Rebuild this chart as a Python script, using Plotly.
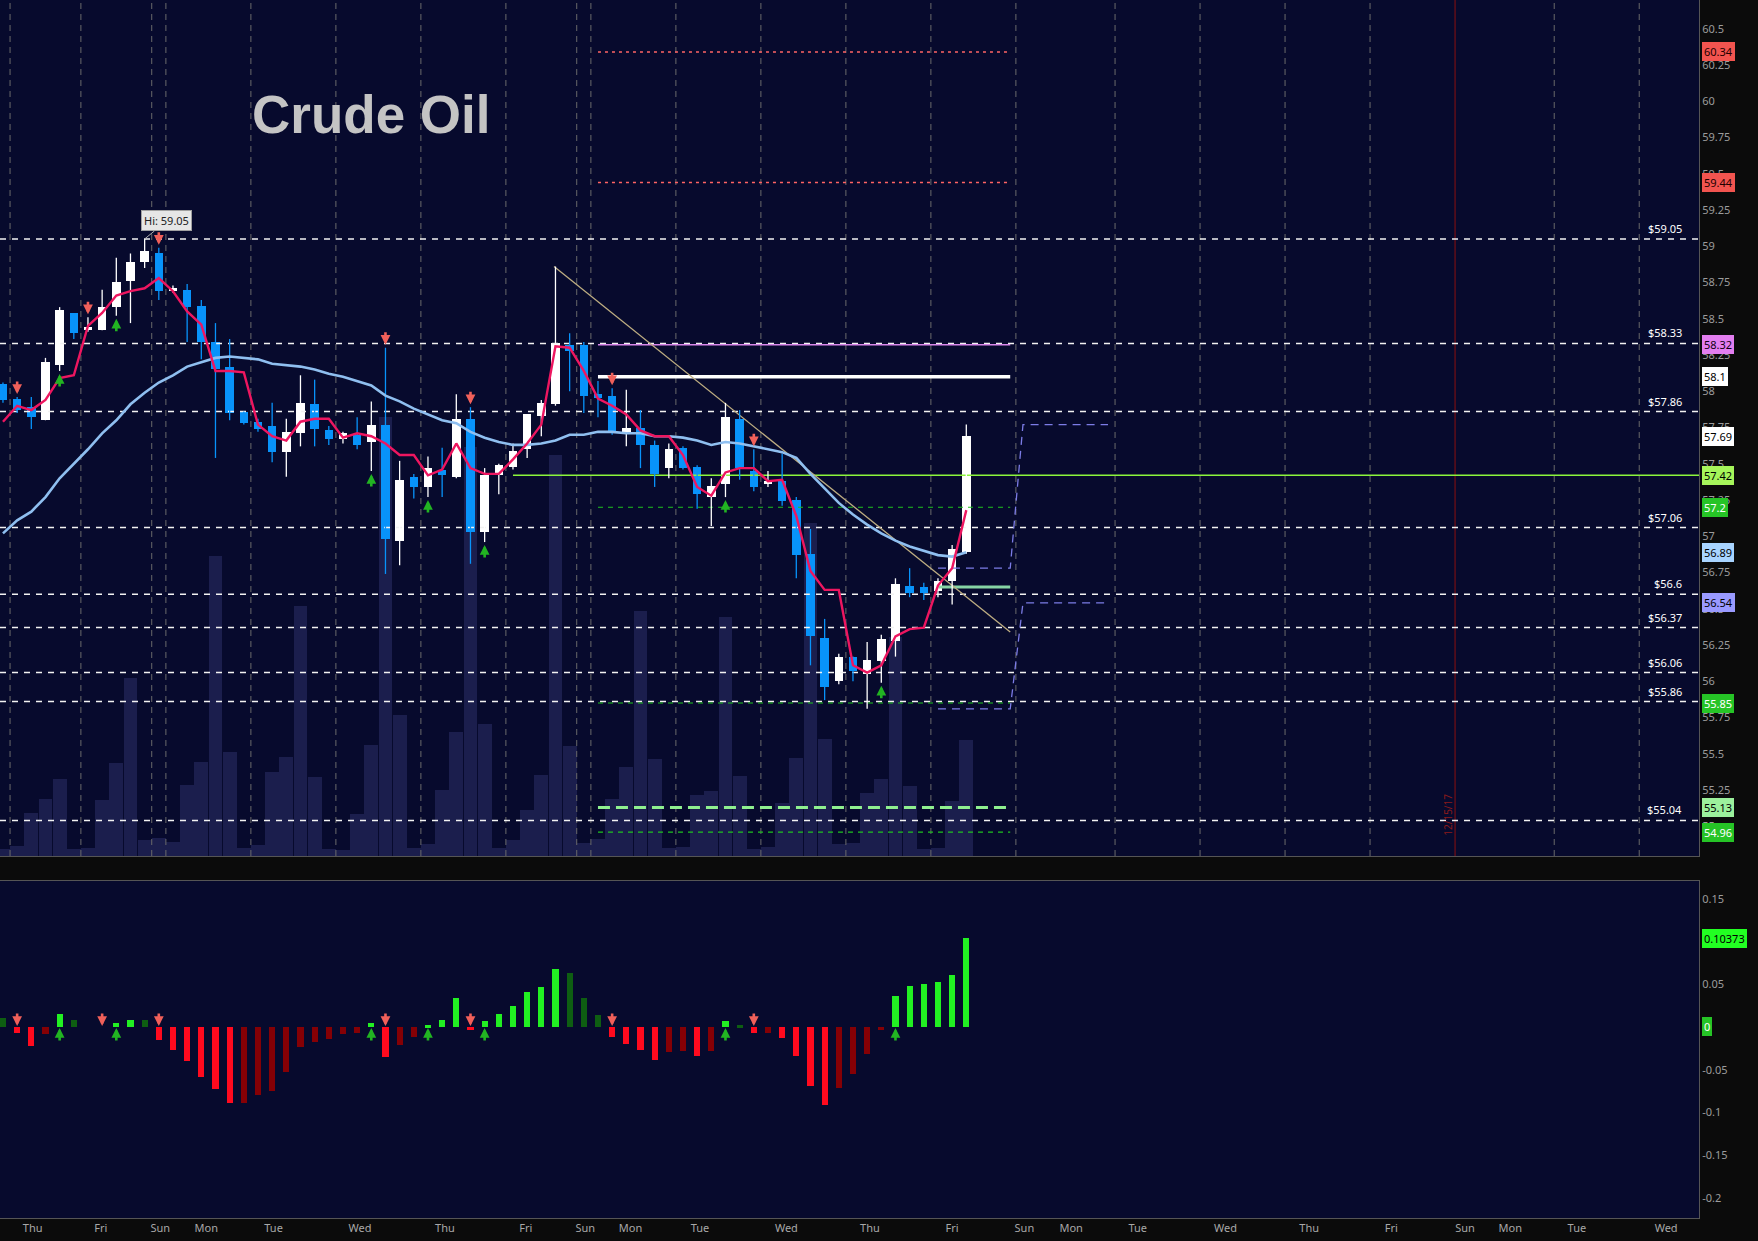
import plotly.graph_objects as go

# ---------------- data ----------------
opens = [58.05, 57.95, 57.89, 57.80, 58.18, 58.54, 58.42, 58.42, 58.58, 58.76,
         58.89, 58.95, 58.69, 58.70, 58.59, 58.34, 58.17, 57.86, 57.79, 57.76,
         57.58, 57.71, 57.91, 57.73, 57.67, 57.70, 57.65, 57.77, 56.97, 57.41,
         57.34, 57.46, 57.41, 57.81, 57.03, 57.42, 57.48, 57.60, 57.83, 57.91,
         58.32, 58.32, 57.98, 57.97, 57.71, 57.75, 57.63, 57.47, 57.61, 57.48,
         57.27, 57.36, 57.81, 57.45, 57.36, 57.38, 57.25, 56.88, 56.30, 56.00,
         56.17, 56.05, 56.14, 56.28, 56.66, 56.65, 56.62, 56.69, 56.89]
highs = [58.06, 57.96, 57.96, 58.23, 58.58, 58.54, 58.51, 58.70, 58.92, 58.95,
         59.05, 58.99, 58.73, 58.74, 58.63, 58.47, 58.36, 57.86, 57.81, 57.92,
         57.81, 58.11, 58.08, 57.76, 57.72, 57.82, 57.93, 58.30, 57.52, 57.43,
         57.55, 57.61, 57.98, 57.89, 57.47, 57.50, 57.64, 57.84, 57.94, 58.86,
         58.40, 58.34, 58.07, 58.02, 58.01, 57.87, 57.66, 57.64, 57.62, 57.49,
         57.40, 57.92, 57.87, 57.60, 57.45, 57.57, 57.27, 57.05, 56.43, 56.19,
         56.17, 56.27, 56.32, 56.71, 56.78, 56.68, 56.71, 56.94, 57.77]
lows = [57.92, 57.85, 57.74, 57.80, 58.14, 58.36, 58.41, 58.42, 58.52, 58.47,
        58.85, 58.63, 58.68, 58.34, 58.22, 57.54, 57.80, 57.77, 57.72, 57.51,
        57.41, 57.62, 57.62, 57.63, 57.64, 57.60, 57.45, 56.74, 56.80, 57.26,
        57.27, 57.27, 57.40, 56.81, 56.96, 57.29, 57.46, 57.54, 57.69, 57.90,
        58.00, 57.85, 57.82, 57.70, 57.62, 57.47, 57.34, 57.40, 57.46, 57.19,
        57.07, 57.27, 57.39, 57.31, 57.34, 57.21, 56.71, 56.11, 55.87, 55.98,
        56.00, 55.81, 55.99, 56.17, 56.58, 56.56, 56.58, 56.53, 56.88]
closes = [57.94, 57.87, 57.82, 58.20, 58.56, 58.40, 58.44, 58.58, 58.75, 58.89,
          58.97, 58.69, 58.71, 58.58, 58.34, 58.15, 57.85, 57.78, 57.74, 57.58,
          57.72, 57.92, 57.74, 57.67, 57.71, 57.63, 57.77, 56.98, 57.39, 57.34,
          57.47, 57.42, 57.81, 57.03, 57.42, 57.49, 57.59, 57.84, 57.92, 58.33,
          58.28, 57.97, 57.955, 57.71, 57.75, 57.63, 57.43, 57.60, 57.47, 57.29,
          57.35, 57.82, 57.47, 57.34, 57.38, 57.24, 56.87, 56.31, 55.96, 56.17,
          56.07, 56.15, 56.29, 56.67, 56.61, 56.61, 56.69, 56.91, 57.69]
fast_ma = [57.79, 57.90, 57.87, 57.94, 58.09, 58.11, 58.45, 58.54, 58.66, 58.69,
           58.71, 58.78, 58.69, 58.55, 58.46, 58.14, 58.14, 58.13, 57.77, 57.69,
           57.66, 57.79, 57.81, 57.81, 57.68, 57.71, 57.69, 57.64, 57.56, 57.56,
           57.42, 57.46, 57.64, 57.47, 57.43, 57.43, 57.53, 57.64, 57.77, 58.31,
           58.30, 58.14, 57.95, 57.90, 57.84, 57.73, 57.69, 57.69, 57.56, 57.34,
           57.28, 57.44, 57.47, 57.47, 57.38, 57.39, 57.14, 56.76, 56.63, 56.63,
           56.11, 56.06, 56.11, 56.31, 56.36, 56.37, 56.66, 56.78, 57.18]
slow_ma = [57.02, 57.11, 57.17, 57.27, 57.40, 57.50, 57.60, 57.71, 57.80, 57.91,
           57.99, 58.06, 58.11, 58.17, 58.20, 58.23, 58.24, 58.23, 58.22, 58.19,
           58.18, 58.17, 58.15, 58.12, 58.10, 58.07, 58.04, 57.97, 57.93, 57.88,
           57.84, 57.80, 57.78, 57.72, 57.68, 57.65, 57.63, 57.63, 57.64, 57.66,
           57.70, 57.70, 57.72, 57.72, 57.71, 57.71, 57.69, 57.69, 57.68, 57.66,
           57.63, 57.65, 57.64, 57.62, 57.60, 57.58, 57.54, 57.43, 57.33, 57.23,
           57.15, 57.08, 57.02, 56.97, 56.93, 56.90, 56.87, 56.86, 56.89]
volume = [700, 1000, 4300, 5700, 7700, 700, 800, 5600, 9300, 17800,
          1600, 1800, 1400, 7100, 9400, 30000, 10400, 800, 1100, 8400,
          9900, 25000, 7900, 700, 600, 4200, 11100, 43900, 14100, 800,
          1200, 6600, 12400, 40900, 13200, 800, 1600, 4600, 8100, 40100,
          11000, 1300, 1700, 5700, 8900, 24500, 9700, 800, 900, 6100,
          6500, 23900, 8000, 700, 900, 5300, 9800, 33300, 11700, 1200,
          1300, 6300, 7700, 21900, 7000, 700, 800, 5500, 11600]
osc = [0.0105, -0.0070, -0.0219, -0.0078, 0.0152, 0.0082, 0.0, 0.0, 0.0047, 0.0082,
       0.0080, -0.0152, -0.0269, -0.0398, -0.0585, -0.0726, -0.0890, -0.0888, -0.0796, -0.0749,
       -0.0527, -0.0234, -0.0176, -0.0141, -0.0082, -0.0070, 0.0047, -0.0351, -0.0211, -0.0117,
       0.0023, 0.0082, 0.0340, -0.0035, 0.0070, 0.0152, 0.0246, 0.0410, 0.0468, 0.0679,
       0.0632, 0.0340, 0.0141, -0.0117, -0.0199, -0.0269, -0.0386, -0.0293, -0.0281, -0.0340,
       -0.0281, 0.0070, 0.0023, -0.0070, -0.0068, -0.0129, -0.0340, -0.0691, -0.0913, -0.0714,
       -0.0550, -0.0316, -0.0035, 0.0363, 0.0480, 0.0504, 0.0527, 0.0609, 0.10373]

sell_signals = [1, 6, 11, 27, 33, 43, 53]
buy_signals = [4, 8, 26, 30, 34, 51, 62]
osc_sell = [1, 7, 11, 27, 33, 43, 53]
osc_buy = [4, 8, 26, 30, 34, 51, 63]

pivot_levels = [59.05, 58.33, 57.86, 57.06, 56.6, 56.37, 56.06, 55.86, 55.04]
far_resistance = [60.34, 59.44]
mid_resistance = 58.32
key_resistance = 58.1
pivot_line = 57.42
minor_supports = [57.2, 55.85, 54.96]
strong_support = 55.13
short_level = 56.65
zone_bars = [42, 71.1]
pivot_line_start = 36
short_level_bars = [66, 71.1]
trend_x = [38.9, 71.1]
trend_y = [58.86, 56.34]
proj_x = [66, 71.1, 72, 78]
proj_upper = [56.78, 56.78, 57.77, 57.77]
proj_lower = [55.81, 55.81, 56.54, 56.54]

session_breaks = [0.5, 5.5, 10.5, 11.5, 17.5, 23.5, 29.5, 35.5, 40.5, 41.5, 47.5,
                  53.5, 59.5, 65.5, 71.5, 78.5, 84.5, 90.5, 96.5, 109.5, 115.5]
expiry_bar = 102.5
expiry_label = "12/15/17"
day_labels = ["Thu", "Fri", "Sun", "Mon", "Tue", "Wed", "Thu", "Fri", "Sun", "Mon", "Tue", "Wed",
              "Thu", "Fri", "Sun", "Mon", "Tue", "Wed", "Thu", "Fri", "Sun", "Mon", "Tue", "Wed"]
day_pos = [2.1, 6.9, 11.1, 14.35, 19.1, 25.2, 31.2, 36.9, 41.1, 44.3, 49.2, 55.3,
           61.2, 67.0, 72.1, 75.4, 80.1, 86.3, 92.2, 98.0, 103.2, 106.4, 111.1, 117.4]
price_ticks = [55 + 0.25 * k for k in range(23)]
osc_ticks = [-0.2, -0.15, -0.1, -0.05, 0, 0.05, 0.1, 0.15]

x_range = [-0.21, 119.72]
price_range = [54.795, 60.698]
osc_range = [-0.2237, 0.171]
vol_range = [0, 85600]

title = "Crude Oil"

# ---------------- styles ----------------
BG = "#070a2d"
PAPER = "#0b0b0b"
UP = "#ffffff"
DOWN = "#0893fa"
FONT = "Noto Sans"

n = len(closes)
idx = list(range(n))

fig = go.Figure()

# volume (base axis of price panel -> drawn underneath)
fig.add_trace(go.Bar(x=idx, y=volume, width=0.97, marker=dict(color="#1b1e4d", line=dict(width=0)),
                     xaxis="x", yaxis="y", hoverinfo="skip"))


def seg_trace(xs_list, ys_list, color, width, dash="solid", opacity=1.0):
    X, Y = [], []
    for xs, ys in zip(xs_list, ys_list):
        X += list(xs) + [None]
        Y += list(ys) + [None]
    return go.Scatter(x=X, y=Y, mode="lines", line=dict(color=color, width=width, dash=dash),
                      opacity=opacity, xaxis="x", yaxis="y3", hoverinfo="skip", showlegend=False)


# vertical session grid
fig.add_trace(seg_trace([[b, b] for b in session_breaks], [price_range] * len(session_breaks),
                        "#6a6a6a", 1, "6px,5px"))
fig.add_trace(seg_trace([[expiry_bar, expiry_bar]], [price_range], "#8a1010", 1))

# pivot levels (full width white dashed)
fig.add_trace(seg_trace([x_range] * len(pivot_levels), [[v, v] for v in pivot_levels],
                        "#f2f2f2", 1.5, "6px,6px"))
# zone lines
fig.add_trace(seg_trace([zone_bars] * 2, [[v, v] for v in far_resistance], "#ff6464", 1.5, "3px,4px"))
fig.add_trace(seg_trace([zone_bars], [[mid_resistance] * 2], "#d886e8", 1.5))
fig.add_trace(seg_trace([zone_bars], [[key_resistance] * 2], "#ffffff", 3.5))
fig.add_trace(seg_trace([[pivot_line_start, x_range[1]]], [[pivot_line] * 2], "#8cf53c", 1.5))
fig.add_trace(seg_trace([zone_bars] * 3, [[v, v] for v in minor_supports], "#1fc41f", 1.2, "5px,5px"))
fig.add_trace(seg_trace([zone_bars], [[strong_support] * 2], "#8ff08f", 3, "12px,6px"))
fig.add_trace(seg_trace([short_level_bars], [[short_level] * 2], "#86d4a4", 3))
# trendline and projection
fig.add_trace(seg_trace([trend_x], [trend_y], "#bfae82", 1.3))
fig.add_trace(seg_trace([proj_x, proj_x], [proj_upper, proj_lower], "#7c7ce6", 1.3, "8px,6px"))

# candles: wicks
up_i = [i for i in idx if closes[i] >= opens[i]]
dn_i = [i for i in idx if closes[i] < opens[i]]
fig.add_trace(seg_trace([[i, i] for i in up_i], [[lows[i], highs[i]] for i in up_i], UP, 1.3))
fig.add_trace(seg_trace([[i, i] for i in dn_i], [[lows[i], highs[i]] for i in dn_i], DOWN, 1.3))
# candles: bodies
for sel, col in ((up_i, UP), (dn_i, DOWN)):
    fig.add_trace(go.Bar(
        x=sel,
        y=[max(abs(closes[i] - opens[i]), 0.014) for i in sel],
        base=[min(opens[i], closes[i]) for i in sel],
        width=0.6, marker=dict(color=col, line=dict(width=0)),
        xaxis="x", yaxis="y3", hoverinfo="skip", showlegend=False))

# moving averages
fig.add_trace(go.Scatter(x=idx, y=slow_ma, mode="lines", line=dict(color="#8fbff0", width=2.6),
                         xaxis="x", yaxis="y3", hoverinfo="skip"))
fig.add_trace(go.Scatter(x=idx, y=fast_ma, mode="lines", line=dict(color="#ee1660", width=2.4),
                         xaxis="x", yaxis="y3", hoverinfo="skip"))

# oscillator histogram
osc_colors = []
for i, v in enumerate(osc):
    prev = osc[i - 1] if i > 0 else v
    if v >= 0:
        osc_colors.append("#22f022" if v > prev else "#0e5e12")
    else:
        osc_colors.append("#ff0a1e" if v < prev else "#850005")
fig.add_trace(go.Bar(x=idx, y=osc, width=0.43, marker=dict(color=osc_colors, line=dict(width=0)),
                     xaxis="x2", yaxis="y2", hoverinfo="skip"))

ann = []
ARROW = dict(text="", showarrow=True, ax=0, arrowhead=2, arrowsize=0.75, arrowwidth=2.6)
# signal arrows on price panel
for i in sell_signals:
    ann.append(dict(ARROW, x=i, y=highs[i], xref="x", yref="y3", ay=-17,
                    arrowcolor="#f0605a", standoff=3))
for i in buy_signals:
    ann.append(dict(ARROW, x=i, y=lows[i], xref="x", yref="y3", ay=17,
                    arrowcolor="#22b422", standoff=3))
for i in osc_sell:
    ann.append(dict(ARROW, x=i, y=0, xref="x2", yref="y2", ay=-15,
                    arrowcolor="#f0605a", standoff=1))
for i in osc_buy:
    ann.append(dict(ARROW, x=i, y=0, xref="x2", yref="y2", ay=15,
                    arrowcolor="#22b422", standoff=1))

# pivot labels
for v in pivot_levels:
    ann.append(dict(x=0.991, y=v, xref="paper", yref="y3", text=f"${v:g}", showarrow=False,
                    xanchor="right", yanchor="bottom", yshift=1,
                    font=dict(family=FONT, size=11, color="#ffffff")))

# right-axis badges
badges = [
    (far_resistance[0], "#f2544f", "#200000"),
    (far_resistance[1], "#f2544f", "#200000"),
    (mid_resistance, "#e37ef0", "#100010"),
    (key_resistance, "#ffffff", "#000000"),
    (closes[-1], "#ffffff", "#000000"),
    (pivot_line, "#a6f55a", "#000000"),
    (minor_supports[0], "#26c426", "#ffffff"),
    (slow_ma[-1], "#a8d4ff", "#000000"),
    (proj_lower[-1], "#9a9aff", "#000000"),
    (minor_supports[1], "#26c426", "#ffffff"),
    (strong_support, "#9cf09c", "#000000"),
    (minor_supports[2], "#26c426", "#ffffff"),
]
for v, bg, fg in badges:
    ann.append(dict(x=1, y=v, xref="paper", yref="y3", text=f"{v:g}", showarrow=False,
                    xanchor="left", xshift=3, bgcolor=bg, bordercolor=bg, borderpad=1,
                    font=dict(family=FONT, size=11, color=fg)))
for v, bg, fg in [(osc[-1], "#22ff22", "#000000"), (0, "#26c426", "#ffffff")]:
    ann.append(dict(x=1, y=v, xref="paper", yref="y2", text=f"{v:g}", showarrow=False,
                    xanchor="left", xshift=3, bgcolor=bg, bordercolor=bg, borderpad=1,
                    font=dict(family=FONT, size=11, color=fg)))

# high label
hi_i = max(idx, key=lambda i: highs[i])
ann.append(dict(x=hi_i, y=highs[hi_i], xref="x", yref="y3", text=f"Hi: {highs[hi_i]:g}",
                showarrow=True, ax=22, ay=-18, arrowhead=0, arrowwidth=1, arrowcolor="#b0b0b0",
                bgcolor="#e6e6e6", bordercolor="#a0a0a0", borderpad=2,
                font=dict(family=FONT, size=11, color="#222222")))
# expiry label
ann.append(dict(x=expiry_bar, y=55.08, xref="x", yref="y3", text=expiry_label, showarrow=False,
                textangle=-90, xshift=-7, font=dict(family=FONT, size=10, color="#8a1a1a")))
# title
ann.append(dict(x=26, y=59.91, xref="x", yref="y3", text=f"<b>{title}</b>", showarrow=False,
                font=dict(family="Liberation Sans", size=53, color="#c4c4c4")))

fig.update_layout(
    width=1758, height=1241,
    margin=dict(l=0, r=59, t=0, b=23),
    paper_bgcolor=PAPER, plot_bgcolor=BG,
    showlegend=False, barmode="overlay", bargap=0,
    annotations=ann,
    xaxis=dict(domain=[0, 1], anchor="y", range=x_range, showticklabels=False, showgrid=False,
               zeroline=False, showline=True, linecolor="#555555", linewidth=1),
    yaxis=dict(domain=[0.2972, 1], range=vol_range, visible=False, showgrid=False, zeroline=False),
    yaxis3=dict(overlaying="y", side="right", anchor="x", range=price_range, tickvals=price_ticks,
                ticktext=[f"{t:g}" for t in price_ticks], showgrid=False, zeroline=False,
                showline=True, linecolor="#555555", ticks="",
                tickfont=dict(family=FONT, size=11, color="#9c9c9c")),
    xaxis2=dict(domain=[0, 1], anchor="y2", range=x_range, matches="x", tickvals=day_pos,
                ticktext=day_labels, showgrid=False, zeroline=False, showline=True, mirror=True,
                linecolor="#555555", ticks="", tickfont=dict(family=FONT, size=11, color="#a8a8a8")),
    yaxis2=dict(domain=[0, 0.2767], range=osc_range, side="right", anchor="x2", tickvals=osc_ticks,
                ticktext=[f"{t:g}" for t in osc_ticks], showgrid=False, zeroline=False,
                showline=True, linecolor="#555555", ticks="",
                tickfont=dict(family=FONT, size=11, color="#9c9c9c")),
)

fig.write_html("out.html", config={"displayModeBar": False},
               post_script="document.body.style.margin='0px';document.body.style.overflow='hidden';")
